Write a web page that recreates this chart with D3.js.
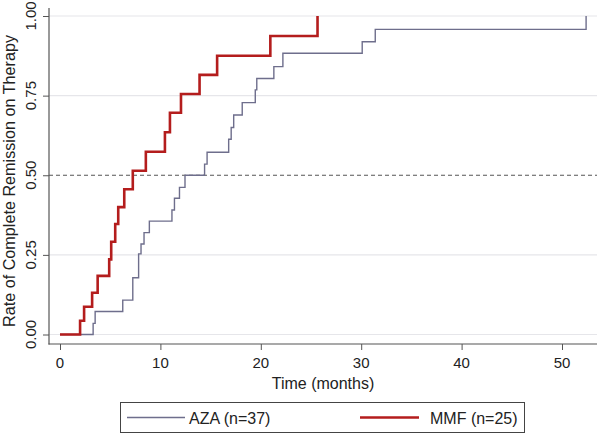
<!DOCTYPE html>
<html>
<head>
<meta charset="utf-8">
<script src="https://cdn.jsdelivr.net/npm/d3@7/dist/d3.min.js"></script>
<style>
  html, body { margin: 0; padding: 0; background: #fff; }
  svg { display: block; font-family: "Liberation Sans", Arial, sans-serif; }
</style>
</head>
<body>
<svg id="chart" width="598" height="435"></svg>
<script>
// ---- Data ----
const xTicks = [0, 10, 20, 30, 40, 50];
const yTicks = [0, 0.25, 0.5, 0.75, 1];
const yTickLabels = ["0.00", "0.25", "0.50", "0.75", "1.00"];
const gridValues = [0, 0.25, 0.75, 1];
const refLineValue = 0.5;

// MMF (n=25): time (months), cumulative rate
const mmfTime  = [0, 2.0, 2.4, 3.2, 3.75, 4.9, 5.1, 5.5, 5.8, 6.4, 7.25, 8.55, 10.45, 10.95, 12.05, 13.9, 15.65, 20.95, 25.65];
const mmfValue = [0, 0.043, 0.087, 0.131, 0.184, 0.236, 0.291, 0.347, 0.40, 0.456, 0.514, 0.574, 0.635, 0.696, 0.755, 0.815, 0.875, 0.937, 1.0];

// AZA (n=37)
const azaTime  = [0, 3.3, 3.5, 6.25, 7.25, 7.83, 8.07, 8.37, 8.9, 11.15, 11.4, 11.9, 12.45, 14.4, 14.65, 16.8, 17.05, 17.3, 18.15, 19.45, 19.6, 21.3, 22.2, 30.1, 31.4, 52.4];
const azaValue = [0, 0.035, 0.072, 0.108, 0.178, 0.253, 0.284, 0.32, 0.356, 0.391, 0.428, 0.462, 0.5, 0.535, 0.572, 0.613, 0.65, 0.689, 0.728, 0.768, 0.804, 0.841, 0.883, 0.919, 0.958, 1.0];

const seriesNames = ["AZA (n=37)", "MMF (n=25)"];
const seriesColors = ["#6e6e8c", "#b41d1d"];
const xTitle = "Time (months)";
const yTitle = "Rate of Complete Remission on Therapy";

// ---- Layout ----
const svg = d3.select("#chart");
const plotLeft = 49, plotRight = 597, plotTop = 8, plotBottom = 344;

const x = d3.scaleLinear().domain([0, 50]).range([60, 562]);
const y = d3.scaleLinear().domain([0, 1]).range([334.5, 16]);

const axisColor = "#555";

// gridlines
svg.append("g").selectAll("line").data(gridValues).join("line")
  .attr("x1", plotLeft).attr("x2", plotRight)
  .attr("y1", d => y(d)).attr("y2", d => y(d))
  .attr("stroke", "#e6e6ea").attr("stroke-width", 1.2);

// reference dashed line
svg.append("line")
  .attr("x1", plotLeft).attr("x2", plotRight)
  .attr("y1", y(refLineValue)).attr("y2", y(refLineValue))
  .attr("stroke", "#555").attr("stroke-width", 1.2)
  .attr("stroke-dasharray", "4,3");

// axes
const yAxis = d3.axisLeft(y).tickValues(yTicks).tickSize(6).tickFormat("");
const gy = svg.append("g").attr("transform", `translate(${plotLeft},0)`).call(yAxis);
gy.select(".domain").remove();
gy.selectAll(".tick line").attr("stroke", axisColor);

const xAxis = d3.axisBottom(x).tickValues(xTicks).tickSize(6).tickFormat("");
const gx = svg.append("g").attr("transform", `translate(0,${plotBottom})`).call(xAxis);
gx.select(".domain").remove();
gx.selectAll(".tick line").attr("stroke", axisColor);

svg.append("line").attr("x1", plotLeft).attr("x2", plotLeft)
  .attr("y1", plotTop).attr("y2", plotBottom + 0.5)
  .attr("stroke", axisColor).attr("stroke-width", 1.2);
svg.append("line").attr("x1", plotLeft - 0.5).attr("x2", plotRight)
  .attr("y1", plotBottom).attr("y2", plotBottom)
  .attr("stroke", axisColor).attr("stroke-width", 1.2);

// y tick labels (rotated)
svg.append("g").selectAll("text").data(yTicks).join("text")
  .attr("transform", (d) => `translate(36,${y(d)}) rotate(-90)`)
  .attr("text-anchor", "middle")
  .attr("font-size", 15).attr("fill", "#222")
  .text((d, i) => yTickLabels[i]);

// x tick labels
svg.append("g").selectAll("text").data(xTicks).join("text")
  .attr("x", d => x(d)).attr("y", 368)
  .attr("text-anchor", "middle")
  .attr("font-size", 15).attr("fill", "#222")
  .text(d => d);

// axis titles
svg.append("text").attr("x", (plotLeft + plotRight) / 2).attr("y", 389)
  .attr("text-anchor", "middle").attr("font-size", 16).attr("fill", "#222")
  .text(xTitle);
svg.append("text")
  .attr("transform", `translate(15,181) rotate(-90)`)
  .attr("text-anchor", "middle").attr("font-size", 16.2).attr("fill", "#222")
  .text(yTitle);

// curves
const line = d3.line().x(d => x(d[0])).y(d => y(d[1])).curve(d3.curveStepAfter);
const aza = azaTime.map((t, i) => [t, azaValue[i]]);
const mmf = mmfTime.map((t, i) => [t, mmfValue[i]]);

svg.append("path").datum(aza).attr("d", line)
  .attr("fill", "none").attr("stroke", seriesColors[0]).attr("stroke-width", 1.4);
svg.append("path").datum(mmf).attr("d", line)
  .attr("fill", "none").attr("stroke", seriesColors[1]).attr("stroke-width", 2.6);

// legend
const lg = svg.append("g");
lg.append("rect").attr("x", 120.5).attr("y", 402.5).attr("width", 404).attr("height", 30)
  .attr("fill", "#fff").attr("stroke", "#444").attr("stroke-width", 1);
const legendItems = [
  { name: seriesNames[0], color: seriesColors[0], w: 1.4, x0: 127, x1: 185, tx: 189 },
  { name: seriesNames[1], color: seriesColors[1], w: 2.6, x0: 360, x1: 419, tx: 430 }
];
legendItems.forEach(it => {
  lg.append("line").attr("x1", it.x0).attr("x2", it.x1).attr("y1", 417.5).attr("y2", 417.5)
    .attr("stroke", it.color).attr("stroke-width", it.w);
  lg.append("text").attr("x", it.tx).attr("y", 423.5).attr("font-size", 16).attr("fill", "#222")
    .text(it.name);
});
</script>
</body>
</html>
